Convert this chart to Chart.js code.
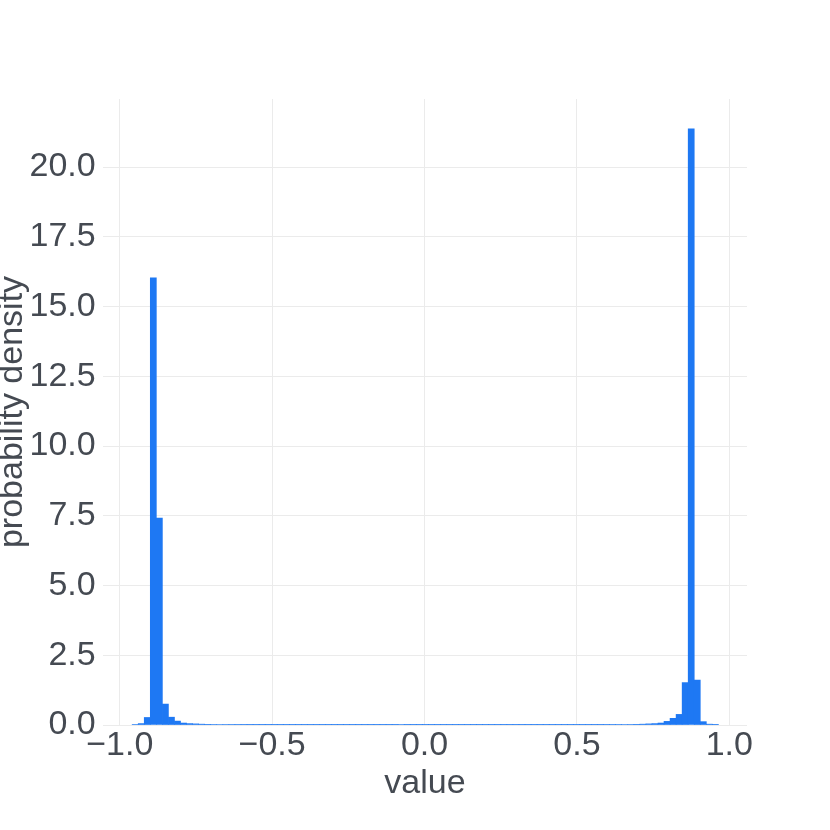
<!DOCTYPE html>
<html>
<head>
<meta charset="utf-8">
<script src="https://cdn.jsdelivr.net/npm/chart.js@4/dist/chart.umd.min.js"></script>
<style>
    html, body { margin: 0; padding: 0; background: #fff; }
    canvas { display: block; }
</style>
</head>
<body>
<canvas id="myChart" width="830" height="830"></canvas>
<script>
// histogram bins: left edge of the first bin and bin width (in "value" units)
const binStart = -0.9593;
const binWidth = 0.01983;

// probability density per bin
const density = [
    0.02, 0.05, 0.27, 16.03, 7.42, 0.75, 0.28, 0.14, 0.07, 0.05, 0.04, 0.03, 0.025, 0.02,
    0.018, 0.016, 0.015, 0.014, 0.013, 0.012, 0.012, 0.011, 0.011, 0.010,
    0.010, 0.010, 0.009, 0.010, 0.009, 0.009, 0.010, 0.009, 0.009, 0.010,
    0.009, 0.009, 0.010, 0.009, 0.009, 0.010, 0.009, 0.010, 0.010, 0.011,
    0.016, 0.010, 0.009, 0.009, 0.010, 0.009, 0.009, 0.010, 0.009, 0.009,
    0.010, 0.009, 0.010, 0.009, 0.009, 0.010, 0.009, 0.010, 0.010, 0.009,
    0.010, 0.010, 0.010, 0.010, 0.010, 0.011, 0.010, 0.011, 0.011, 0.011,
    0.011, 0.011, 0.012, 0.012, 0.013, 0.014, 0.015, 0.017, 0.020, 0.025,
    0.03, 0.04, 0.05, 0.07, 0.13, 0.24, 0.38, 1.52, 21.37, 1.61, 0.12, 0.03, 0.01
];

const xTicks = [-1.0, -0.5, 0.0, 0.5, 1.0];
const yTicks = [0, 2.5, 5, 7.5, 10, 12.5, 15, 17.5, 20];

const points = density.map((d, i) => ({x: binStart + binWidth * (i + 0.5), y: d}));

const textColor = '#454a52';
const gridColor = '#ebebeb';
const fontFamily = "'Liberation Sans', Arial, sans-serif";

const ctx = document.getElementById('myChart').getContext('2d');
const myChart = new Chart(ctx, {
    type: 'bar',
    data: {
        datasets: [{
            label: 'value',
            data: points,
            backgroundColor: 'rgb(30, 120, 243)',
            borderWidth: 0,
            barPercentage: 1.0,
            categoryPercentage: 1.0
        }]
    },
    options: {
        responsive: false,
        animation: false,
        layout: {
            padding: {top: 99, right: 83, bottom: 0, left: 0}
        },
        plugins: {
            legend: {display: false},
            tooltip: {enabled: false}
        },
        scales: {
            x: {
                type: 'linear',
                min: -1.055,
                max: 1.058,
                offset: false,
                afterBuildTicks: (scale) => {
                    scale.ticks = xTicks.map(v => ({value: v}));
                },
                afterFit: (scale) => {
                    scale.height = 105;
                },
                ticks: {
                    padding: 0.5,
                    color: textColor,
                    font: {family: fontFamily, size: 34},
                    maxRotation: 0,
                    callback: (v) => Number(v).toFixed(1).replace('-', '\u2212')
                },
                grid: {color: gridColor, lineWidth: 1, drawTicks: false, offset: false},
                border: {display: false},
                title: {
                    display: true,
                    text: 'value',
                    color: textColor,
                    font: {family: fontFamily, size: 34},
                    padding: {top: 0, bottom: 25.7}
                }
            },
            y: {
                type: 'linear',
                min: 0,
                max: 22.44,
                afterBuildTicks: (scale) => {
                    scale.ticks = yTicks.map(v => ({value: v}));
                },
                afterFit: (scale) => {
                    scale.width = 103;
                },
                ticks: {
                    padding: 7.3,
                    color: textColor,
                    font: {family: fontFamily, size: 34},
                    callback: (v) => Number(v).toFixed(1)
                },
                grid: {color: gridColor, lineWidth: 1, drawTicks: false},
                border: {display: false},
                title: {
                    display: true,
                    text: 'probability density',
                    color: textColor,
                    font: {family: fontFamily, size: 34, lineHeight: 0.75},
                    padding: {top: 0, bottom: 0}
                }
            }
        }
    }
});
</script>
</body>
</html>
